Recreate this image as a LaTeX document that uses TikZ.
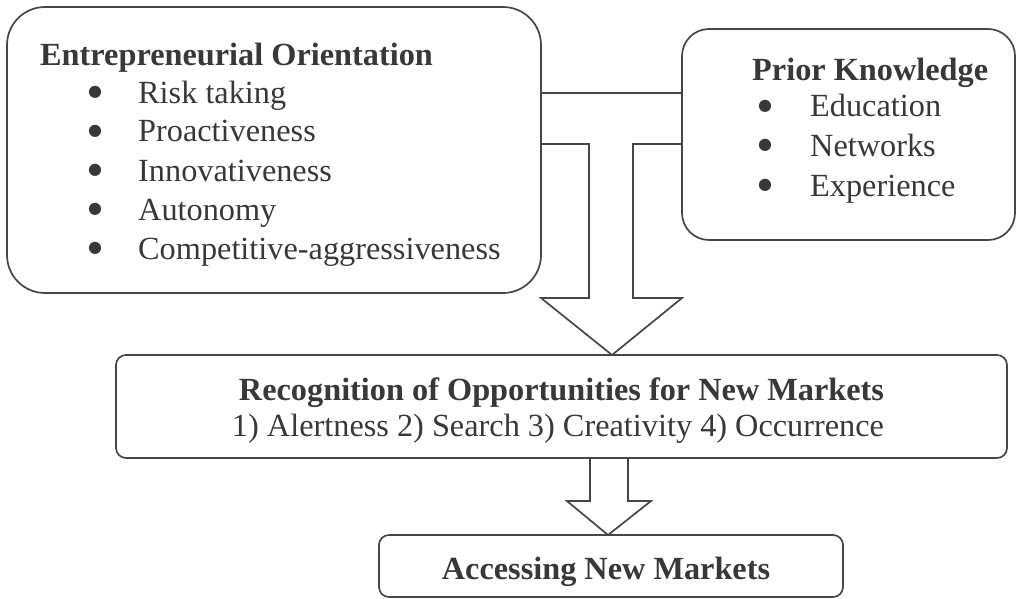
\documentclass[tikz,border=0pt]{standalone}
\usepackage{fontspec}
\setmainfont{Liberation Serif}
\newfontfamily\symfont{DejaVu Sans}
\usetikzlibrary{calc}
\definecolor{ink}{HTML}{383838}
\definecolor{rule}{HTML}{464646}
\begin{document}
\begin{tikzpicture}[x=1pt,y=-1pt,
  box/.style={draw=rule, line width=1.7pt, rounded corners=#1, inner sep=0pt, outer sep=0pt},
  txt/.style={text=ink, inner sep=0pt, font=\fontsize{32.3}{38}\selectfont},
  head/.style={txt, font=\fontsize{32.3}{38}\selectfont\bfseries},
  item/.style={txt, anchor=base west},
  dot/.style={text=ink, inner sep=0pt, anchor=center, font=\symfont\fontsize{16}{16}\selectfont},
  blockarrow/.style={draw=rule, line width=1.7pt, line join=miter}]
\useasboundingbox (0,0) rectangle (1019,599);

% boxes
\node[box=38pt, minimum width=534pt, minimum height=286pt] (eo) at (274,150) {};
\node[box=27pt, minimum width=333pt, minimum height=211pt] (pk) at (848.5,134.5) {};
\node[box=10pt, minimum width=891pt, minimum height=103pt] (rec) at (561.5,406.5) {};
\node[box=10pt, minimum width=464pt, minimum height=62pt] (acc) at (611,566) {};

% Entrepreneurial orientation
\node[head, anchor=base west] (eoT) at (40,66) {Entrepreneurial Orientation};
\foreach \t [count=\i from 0] in {Risk taking, Proactiveness, Innovativeness, Autonomy, Competitive-aggressiveness}{
  \node[dot] (eoB\i) at (95,92+39*\i) {●};
  \node[item] (eoI\i) at (138,103+39*\i) {\t};
}

% Prior knowledge
\node[head, anchor=base west] (pkT) at (752,81) {Prior Knowledge};
\foreach \t [count=\i from 0] in {Education, Networks, Experience}{
  \node[dot] (pkB\i) at (765,106+39.5*\i) {●};
  \node[item] (pkI\i) at (810,117+39.5*\i) {\t};
}

% Recognition of opportunities
\node[head, anchor=base] (recT) at (561.5,400) {Recognition of Opportunities for New Markets};
\node[txt, anchor=base] (recS) at (558,436) {1) Alertness 2) Search 3) Creativity 4) Occurrence};

% Accessing new markets
\node[head, anchor=base] (accT) at (606,579) {Accessing New Markets};

% joining arrow from both boxes down to recognition
\draw[blockarrow] (eo.east |- 0,93) -- (pk.west |- 0,93);
\draw[blockarrow] (eo.east |- 0,144) -- (589,144) -- (589,298) -- (eo.east |- 0,298)
  -- (rec.north -| 612,0) -- (pk.west |- 0,298) -- (633,298) -- (633,144) -- (pk.west |- 0,144);

% arrow from recognition down to accessing
\draw[blockarrow] (rec.south -| 590,0) -- (590,501) -- (567,501) -- (acc.north -| 608,0)
  -- (651,501) -- (628,501) -- (rec.south -| 628,0);
\end{tikzpicture}
\end{document}
